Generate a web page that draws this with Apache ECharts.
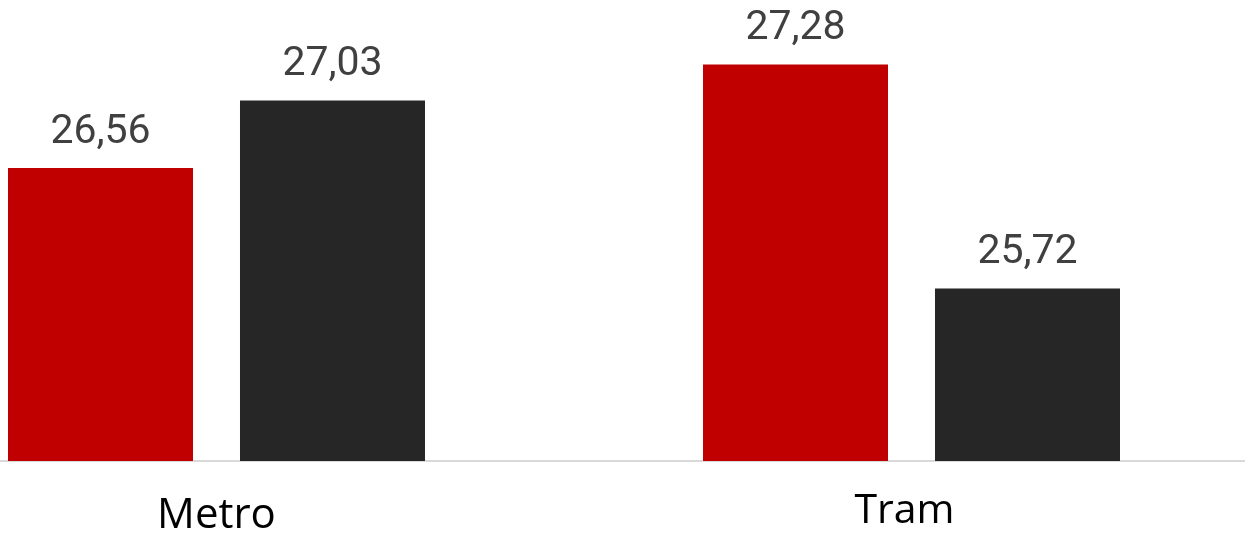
<!DOCTYPE html>
<html>
<head>
<meta charset="utf-8">
<script src="https://cdn.jsdelivr.net/npm/echarts@6/dist/echarts.min.js"></script>
<style>
  html, body { margin: 0; padding: 0; background: #fff; }
  #main { width: 1245px; height: 533px; }
</style>
</head>
<body>
<div id="main"></div>
<script>
const categories = ['Metro', 'Tram'];
const redValues = [26.56, 27.28];
const blackValues = [27.03, 25.72];

const myChart = echarts.init(document.getElementById('main'));

function labelText(p) {
    return p.value.toFixed(2).replace('.', ',');
}

const barLabel = {
    show: true,
    position: 'top',
    distance: 15,
    fontFamily: 'Roboto',
    fontSize: 41,
    color: '#404040',
    formatter: labelText
};

let option = {
    animation: false,
    grid: { left: -131, right: -14, top: 30, bottom: 72, outerBoundsMode: 'none', containLabel: false },
    xAxis: {
        type: 'category',
        data: categories,
        axisLine: { lineStyle: { color: '#d9d9d9', width: 2 } },
        axisTick: { show: false },
        axisLabel: {
            margin: 30,
            formatter: function (v) {
                return v === 'Metro' ? '{m|' + v + '}' : '{t|' + v + '}';
            },
            rich: {
                m: { fontFamily: 'Open Sans', fontSize: 42, color: '#000', padding: [4, 0, 0, 0] },
                t: { fontFamily: 'Open Sans', fontSize: 41, color: '#000', padding: [0, 14, 16, 0] }
            }
        }
    },
    yAxis: {
        type: 'value',
        min: 24.52,
        max: 27.52,
        show: false,
        splitLine: { show: false }
    },
    series: [
        {
            name: 'A',
            type: 'bar',
            data: redValues,
            barWidth: 185,
            barGap: '25.4%',
            itemStyle: { color: '#c00000' },
            label: barLabel
        },
        {
            name: 'B',
            type: 'bar',
            data: blackValues,
            barWidth: 185,
            itemStyle: { color: '#262626' },
            label: barLabel
        }
    ]
};

myChart.setOption(option);
</script>
</body>
</html>
